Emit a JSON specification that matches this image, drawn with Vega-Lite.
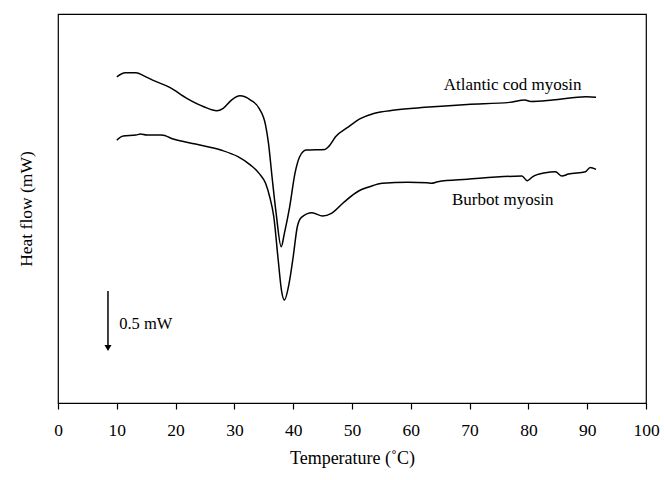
{
  "$schema": "https://vega.github.io/schema/vega-lite/v6.json",
  "width": 588,
  "height": 389,
  "autosize": {"type": "none"},
  "padding": {"left": 58, "top": 14, "right": 18, "bottom": 77},
  "background": "white",
  "config": {
    "font": "Liberation Serif",
    "view": {"stroke": "black", "strokeWidth": 1.2},
    "axis": {"labelFont": "Liberation Serif", "titleFont": "Liberation Serif", "titleFontWeight": "normal", "labelColor": "black", "titleColor": "black", "grid": false}
  },
  "datasets": {
    "curves": [
      {"series": "Atlantic cod myosin", "t": 10.0, "hf": 2.683},
      {"series": "Atlantic cod myosin", "t": 11.45, "hf": 2.716},
      {"series": "Atlantic cod myosin", "t": 13.25, "hf": 2.716},
      {"series": "Atlantic cod myosin", "t": 14.7, "hf": 2.689},
      {"series": "Atlantic cod myosin", "t": 16.1, "hf": 2.656},
      {"series": "Atlantic cod myosin", "t": 19.0, "hf": 2.596},
      {"series": "Atlantic cod myosin", "t": 21.9, "hf": 2.506},
      {"series": "Atlantic cod myosin", "t": 24.8, "hf": 2.437},
      {"series": "Atlantic cod myosin", "t": 27.0, "hf": 2.404},
      {"series": "Atlantic cod myosin", "t": 28.1, "hf": 2.424},
      {"series": "Atlantic cod myosin", "t": 29.5, "hf": 2.492},
      {"series": "Atlantic cod myosin", "t": 30.95, "hf": 2.527},
      {"series": "Atlantic cod myosin", "t": 32.75, "hf": 2.492},
      {"series": "Atlantic cod myosin", "t": 34.2, "hf": 2.424},
      {"series": "Atlantic cod myosin", "t": 35.3, "hf": 2.286},
      {"series": "Atlantic cod myosin", "t": 35.8, "hf": 2.136},
      {"series": "Atlantic cod myosin", "t": 36.4, "hf": 1.861},
      {"series": "Atlantic cod myosin", "t": 37.1, "hf": 1.56},
      {"series": "Atlantic cod myosin", "t": 37.96, "hf": 1.285},
      {"series": "Atlantic cod myosin", "t": 38.5, "hf": 1.396},
      {"series": "Atlantic cod myosin", "t": 39.4, "hf": 1.614},
      {"series": "Atlantic cod myosin", "t": 40.3, "hf": 1.889},
      {"series": "Atlantic cod myosin", "t": 41.1, "hf": 2.026},
      {"series": "Atlantic cod myosin", "t": 42.2, "hf": 2.081},
      {"series": "Atlantic cod myosin", "t": 45.4, "hf": 2.086},
      {"series": "Atlantic cod myosin", "t": 46.1, "hf": 2.113},
      {"series": "Atlantic cod myosin", "t": 47.2, "hf": 2.19},
      {"series": "Atlantic cod myosin", "t": 49.4, "hf": 2.272},
      {"series": "Atlantic cod myosin", "t": 51.5, "hf": 2.341},
      {"series": "Atlantic cod myosin", "t": 53.7, "hf": 2.382},
      {"series": "Atlantic cod myosin", "t": 57.3, "hf": 2.41},
      {"series": "Atlantic cod myosin", "t": 62.4, "hf": 2.432},
      {"series": "Atlantic cod myosin", "t": 69.6, "hf": 2.456},
      {"series": "Atlantic cod myosin", "t": 76.8, "hf": 2.473},
      {"series": "Atlantic cod myosin", "t": 79.4, "hf": 2.492},
      {"series": "Atlantic cod myosin", "t": 80.4, "hf": 2.481},
      {"series": "Atlantic cod myosin", "t": 84.1, "hf": 2.492},
      {"series": "Atlantic cod myosin", "t": 89.8, "hf": 2.519},
      {"series": "Atlantic cod myosin", "t": 91.5, "hf": 2.516},
      {"series": "Burbot myosin", "t": 10.0, "hf": 2.163},
      {"series": "Burbot myosin", "t": 11.1, "hf": 2.196},
      {"series": "Burbot myosin", "t": 13.25, "hf": 2.204},
      {"series": "Burbot myosin", "t": 14.0, "hf": 2.212},
      {"series": "Burbot myosin", "t": 15.1, "hf": 2.204},
      {"series": "Burbot myosin", "t": 17.6, "hf": 2.204},
      {"series": "Burbot myosin", "t": 19.75, "hf": 2.169},
      {"series": "Burbot myosin", "t": 23.4, "hf": 2.13},
      {"series": "Burbot myosin", "t": 27.7, "hf": 2.081},
      {"series": "Burbot myosin", "t": 30.6, "hf": 2.026},
      {"series": "Burbot myosin", "t": 32.75, "hf": 1.957},
      {"series": "Burbot myosin", "t": 34.2, "hf": 1.889},
      {"series": "Burbot myosin", "t": 35.3, "hf": 1.807},
      {"series": "Burbot myosin", "t": 36.0, "hf": 1.697},
      {"series": "Burbot myosin", "t": 36.7, "hf": 1.532},
      {"series": "Burbot myosin", "t": 37.45, "hf": 1.176},
      {"series": "Burbot myosin", "t": 38.0, "hf": 0.929},
      {"series": "Burbot myosin", "t": 38.5, "hf": 0.847},
      {"series": "Burbot myosin", "t": 39.3, "hf": 0.984},
      {"series": "Burbot myosin", "t": 40.0, "hf": 1.203},
      {"series": "Burbot myosin", "t": 40.7, "hf": 1.45},
      {"series": "Burbot myosin", "t": 41.4, "hf": 1.527},
      {"series": "Burbot myosin", "t": 43.2, "hf": 1.565},
      {"series": "Burbot myosin", "t": 45.0, "hf": 1.538},
      {"series": "Burbot myosin", "t": 46.5, "hf": 1.56},
      {"series": "Burbot myosin", "t": 48.7, "hf": 1.655},
      {"series": "Burbot myosin", "t": 51.2, "hf": 1.746},
      {"series": "Burbot myosin", "t": 53.0, "hf": 1.779},
      {"series": "Burbot myosin", "t": 55.2, "hf": 1.807},
      {"series": "Burbot myosin", "t": 59.5, "hf": 1.815},
      {"series": "Burbot myosin", "t": 62.75, "hf": 1.812},
      {"series": "Burbot myosin", "t": 63.5, "hf": 1.807},
      {"series": "Burbot myosin", "t": 64.6, "hf": 1.82},
      {"series": "Burbot myosin", "t": 69.6, "hf": 1.84},
      {"series": "Burbot myosin", "t": 78.9, "hf": 1.867},
      {"series": "Burbot myosin", "t": 79.8, "hf": 1.828},
      {"series": "Burbot myosin", "t": 80.7, "hf": 1.861},
      {"series": "Burbot myosin", "t": 82.9, "hf": 1.894},
      {"series": "Burbot myosin", "t": 84.6, "hf": 1.902},
      {"series": "Burbot myosin", "t": 85.7, "hf": 1.867},
      {"series": "Burbot myosin", "t": 86.8, "hf": 1.883},
      {"series": "Burbot myosin", "t": 89.7, "hf": 1.902},
      {"series": "Burbot myosin", "t": 90.5, "hf": 1.938},
      {"series": "Burbot myosin", "t": 91.5, "hf": 1.922}
    ],
    "labels": [
      {"name": "Atlantic cod myosin", "t": 65.6, "hf": 2.615},
      {"name": "Burbot myosin", "t": 67.0, "hf": 1.669}
    ],
    "scalebar": [
      {"t": 8.5, "top": 0.921, "bottom": 0.46, "tip": 0.452, "caption": "0.5 mW", "tcap": 10.4, "hcap": 0.65}
    ]
  },
  "layer": [
    {
      "data": {"name": "curves"},
      "mark": {"type": "line", "color": "black", "strokeWidth": 1.5, "interpolate": "monotone"},
      "encoding": {
        "x": {
          "field": "t", "type": "quantitative",
          "scale": {"domain": [0, 100], "nice": false, "zero": false},
          "axis": {
            "title": "Temperature (˚C)", "values": [0, 10, 20, 30, 40, 50, 60, 70, 80, 90, 100],
            "labelFlush": false, "labelOverlap": false,
            "domainColor": "black", "domainWidth": 1.2, "tickColor": "black", "tickWidth": 1.2, "tickSize": 6,
            "labelFontSize": 17.5, "labelPadding": 12, "titleFontSize": 18, "titlePadding": 11
          }
        },
        "y": {
          "field": "hf", "type": "quantitative",
          "scale": {"domain": [0, 3.2], "nice": false, "zero": false},
          "axis": {
            "title": "Heat flow (mW)", "ticks": false, "labels": false, "domain": false,
            "titleFontSize": 17.5, "titlePadding": 23
          }
        },
        "detail": {"field": "series"}
      }
    },
    {
      "data": {"name": "labels"},
      "mark": {"type": "text", "align": "left", "baseline": "middle", "fontSize": 17, "color": "black", "font": "Liberation Serif"},
      "encoding": {
        "x": {"field": "t", "type": "quantitative"},
        "y": {"field": "hf", "type": "quantitative"},
        "text": {"field": "name"}
      }
    },
    {
      "data": {"name": "scalebar"},
      "mark": {"type": "rule", "color": "black", "strokeWidth": 1.5},
      "encoding": {
        "x": {"field": "t", "type": "quantitative"},
        "y": {"field": "top", "type": "quantitative"},
        "y2": {"field": "bottom"}
      }
    },
    {
      "data": {"name": "scalebar"},
      "mark": {"type": "point", "shape": "triangle-down", "filled": true, "color": "black", "size": 50, "opacity": 1},
      "encoding": {
        "x": {"field": "t", "type": "quantitative"},
        "y": {"field": "tip", "type": "quantitative"}
      }
    },
    {
      "data": {"name": "scalebar"},
      "mark": {"type": "text", "align": "left", "baseline": "middle", "fontSize": 16.5, "color": "black", "font": "Liberation Serif"},
      "encoding": {
        "x": {"field": "tcap", "type": "quantitative"},
        "y": {"field": "hcap", "type": "quantitative"},
        "text": {"field": "caption"}
      }
    }
  ]
}
